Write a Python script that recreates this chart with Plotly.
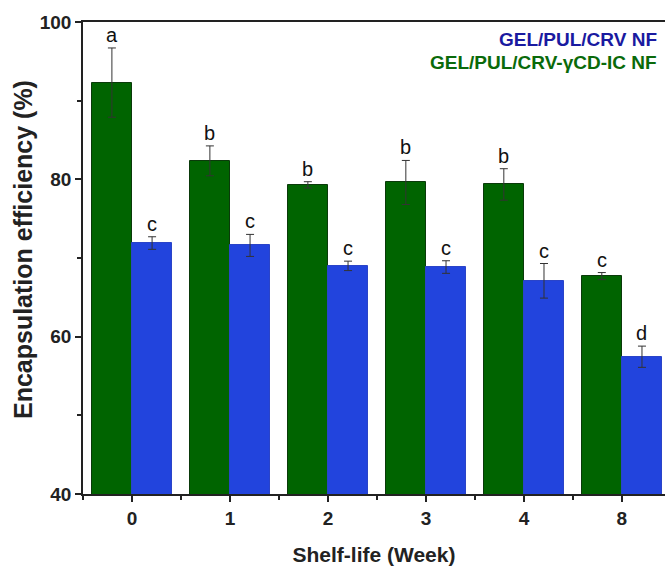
import plotly.graph_objects as go

weeks = ["0", "1", "2", "3", "4", "8"]
ic_mean = [92.3, 82.35, 79.3, 79.6, 79.35, 67.7]
ic_err = [4.4, 1.9, 0.4, 2.8, 2.0, 0.45]
ic_letters = ["a", "b", "b", "b", "b", "c"]
crv_mean = [71.9, 71.6, 69.0, 68.85, 67.1, 57.45]
crv_err = [0.8, 1.4, 0.6, 0.8, 2.2, 1.35]
crv_letters = ["c", "c", "c", "c", "c", "d"]

GREEN = "#006400"
BLUE = "#2244dd"
FONT = "Liberation Sans, Arial, sans-serif"
INK = "#222222"

pos = list(range(len(weeks)))
half = 0.41  # width of one bar in category units

fig = go.Figure()
fig.add_trace(go.Bar(
    x=[p - half / 2 for p in pos], y=ic_mean, width=half,
    marker=dict(color=GREEN, line=dict(color="#0a3a0a", width=1)),
    error_y=dict(type="data", array=ic_err, color="#333333", thickness=1, width=4),
    showlegend=False,
))
fig.add_trace(go.Bar(
    x=[p + half / 2 for p in pos], y=crv_mean, width=half,
    marker=dict(color=BLUE, line=dict(color="#2a44c8", width=1)),
    error_y=dict(type="data", array=crv_err, color="#333333", thickness=1, width=4),
    showlegend=False,
))

# significance letters above the error bars
for offs, means, errs, letters in [(-half / 2, ic_mean, ic_err, ic_letters),
                                   (half / 2, crv_mean, crv_err, crv_letters)]:
    for p, m, e, t in zip(pos, means, errs, letters):
        fig.add_annotation(x=p + offs, y=m + e, text=t, showarrow=False,
                           yanchor="bottom", yshift=0,
                           font=dict(family=FONT, size=20, color="#111111"))

# legend as coloured text
fig.add_annotation(xref="paper", yref="paper", x=0.99, y=0.99, xanchor="right", yanchor="top",
                   text="<b>GEL/PUL/CRV NF</b>", showarrow=False,
                   font=dict(family=FONT, size=19, color="#1a1aa0"))
fig.add_annotation(xref="paper", yref="paper", x=0.99, y=0.94, xanchor="right", yanchor="top",
                   text="<b>GEL/PUL/CRV-γCD-IC NF</b>", showarrow=False,
                   font=dict(family=FONT, size=19, color="#0a6a0a"))

# y-axis title
fig.add_annotation(xref="paper", yref="paper", x=-0.103, y=0.517, xanchor="center", yanchor="middle",
                   text="<b>Encapsulation efficiency (%)</b>", textangle=-90, showarrow=False,
                   font=dict(family=FONT, size=25, color=INK))

fig.update_layout(
    width=665, height=568,
    margin=dict(l=83, r=0, t=22, b=74),
    plot_bgcolor="white", paper_bgcolor="white",
    bargap=0, barmode="overlay",
    font=dict(family=FONT, color=INK),
)
fig.update_xaxes(
    range=[-0.5, 5.44], tickmode="array", tickvals=pos,
    ticktext=["<b>%s</b>" % w for w in weeks],
    ticks="outside", ticklen=6, tickwidth=1.5, tickcolor=INK,
    minor=dict(tickvals=[p + 0.5 for p in [-1] + pos], ticks="outside", ticklen=4, tickwidth=1.5, tickcolor=INK),
    showline=True, linecolor=INK, linewidth=1.5, mirror=True,
    showgrid=False, zeroline=False,
    tickfont=dict(family=FONT, size=19, color=INK),
    title=dict(text="<b>Shelf-life (Week)</b>", font=dict(family=FONT, size=21, color=INK), standoff=20),
)
fig.update_yaxes(
    range=[40, 100], tickvals=[40, 60, 80, 100],
    ticktext=["<b>40</b>", "<b>60</b>", "<b>80</b>", "<b>100</b>"],
    ticks="outside", ticklen=6, tickwidth=1.5, tickcolor=INK,
    minor=dict(tickvals=[50, 70, 90], ticks="outside", ticklen=4, tickwidth=1.5, tickcolor=INK),
    showline=True, linecolor=INK, linewidth=1.5, mirror=False,
    showgrid=False, zeroline=False,
    tickfont=dict(family=FONT, size=19, color=INK),
)

fig.write_html("out.html")
